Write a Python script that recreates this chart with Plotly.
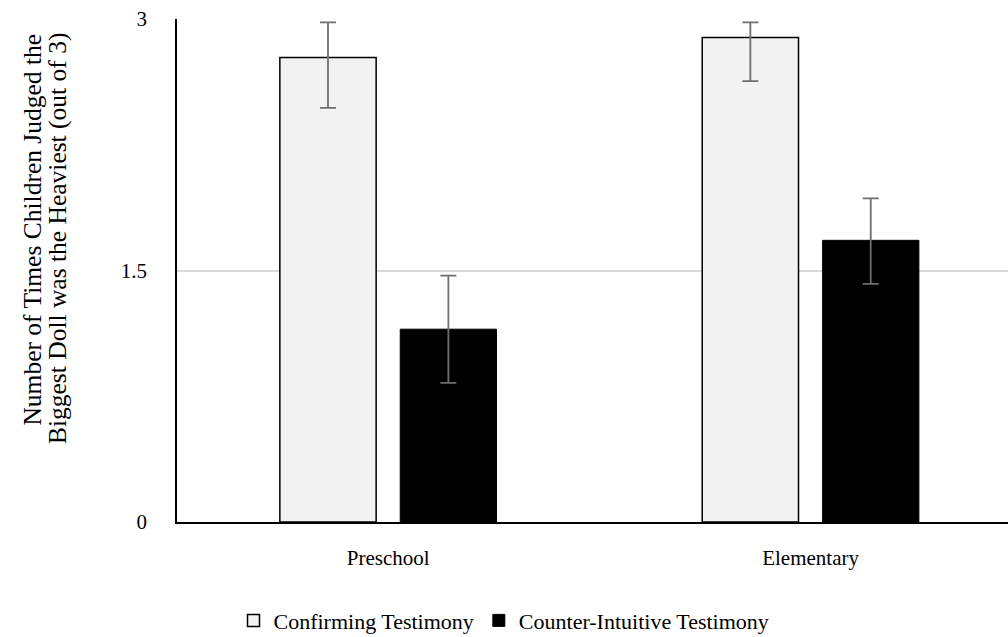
import plotly.graph_objects as go

# Age groups and the two testimony conditions
groups = ["Preschool", "Elementary"]
confirming = [2.77, 2.89]
confirming_err_plus = [0.21, 0.09]
confirming_err_minus = [0.30, 0.26]
counter = [1.15, 1.68]
counter_err_plus = [0.32, 0.25]
counter_err_minus = [0.32, 0.26]
y_ticks = [0, 1.5, 3]
y_tick_labels = ["0", "1.5", "3"]
y_title_lines = ["Number of Times Children Judged the",
                 "Biggest Doll was the Heaviest (out of 3)"]

FONT = "Liberation Serif, Times New Roman, serif"
ERR_COLOR = "#6e6e6e"

fig = go.Figure()
fig.add_trace(go.Bar(
    name="Confirming Testimony",
    x=groups, y=confirming,
    marker=dict(color="#f2f2f2", line=dict(color="black", width=1.5)),
    error_y=dict(type="data", symmetric=False, array=confirming_err_plus,
                 arrayminus=confirming_err_minus, color=ERR_COLOR,
                 thickness=1.8, width=8),
))
fig.add_trace(go.Bar(
    name="Counter-Intuitive Testimony",
    x=groups, y=counter,
    marker=dict(color="black", line=dict(color="black", width=1)),
    error_y=dict(type="data", symmetric=False, array=counter_err_plus,
                 arrayminus=counter_err_minus, color=ERR_COLOR,
                 thickness=1.8, width=8),
))

fig.update_layout(
    width=1008, height=637,
    margin=dict(l=177, r=0, t=19, b=115, autoexpand=False),
    paper_bgcolor="white", plot_bgcolor="white",
    font=dict(family=FONT, size=21, color="black"),
    barmode="group", bargap=0.43, bargroupgap=0.2,
    showlegend=True,
    legend=dict(orientation="h", x=0.3935, xanchor="center",
                y=-0.196, yanchor="middle",
                font=dict(family=FONT, size=22, color="black"),
                itemwidth=30, tracegroupgap=0),
)
fig.update_xaxes(
    range=[-0.5, 1.4675],
    showline=True, linecolor="black", linewidth=2,
    showgrid=False, ticks="", ticklabelstandoff=16,
    tickfont=dict(family=FONT, size=21, color="black"),
)
fig.update_yaxes(
    range=[0, 3], tickvals=y_ticks, ticktext=y_tick_labels,
    showline=True, linecolor="black", linewidth=1.5,
    showgrid=True, gridcolor="#d9d9d9", gridwidth=1.5,
    zeroline=False, ticks="", ticklabelstandoff=24,
    tickfont=dict(family=FONT, size=21, color="black"),
)

# Two-line rotated y-axis title, one annotation per line for tight spacing
for line, shift in zip(y_title_lines, [-144, -120]):
    fig.add_annotation(
        text=line,
        xref="paper", yref="paper", x=0, y=0.975, xshift=shift,
        xanchor="center", yanchor="top", textangle=-90, showarrow=False,
        font=dict(family=FONT, size=25.5, color="black"),
    )

fig.write_html("out.html")
